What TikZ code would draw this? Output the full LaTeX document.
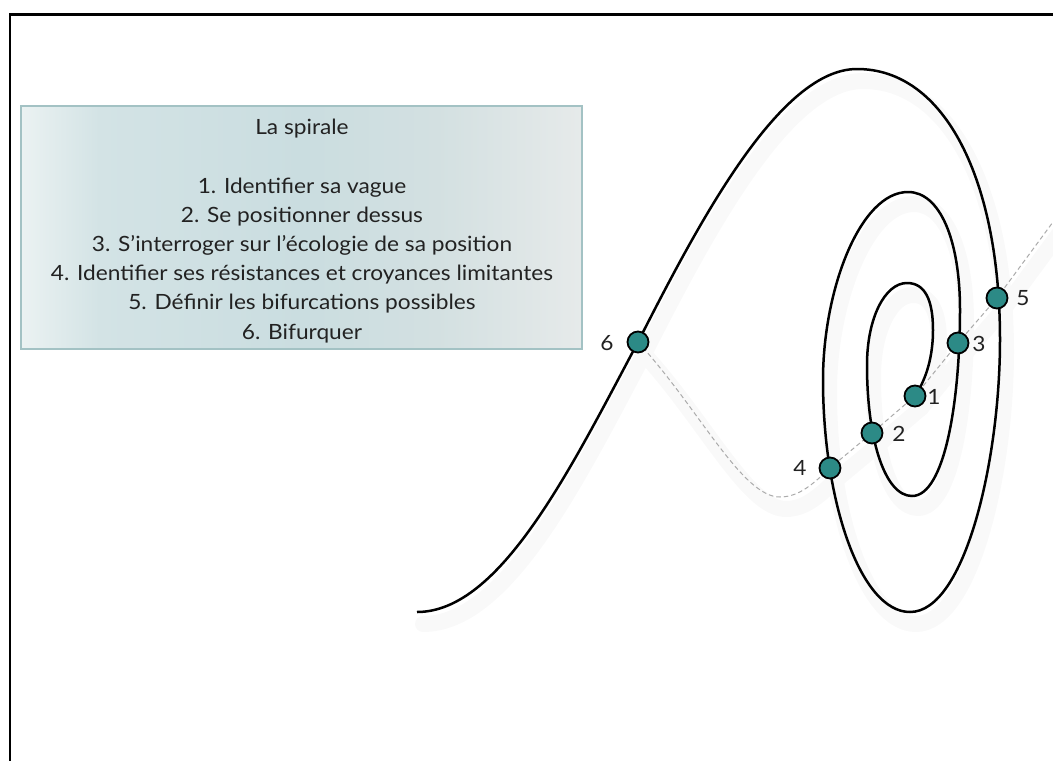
\documentclass[tikz,border=0pt]{standalone}
\usepackage{fontspec}
\setmainfont{Lato}
\newfontfamily\boxfont{Lato}[FakeStretch=1.08]
\definecolor{bxa}{HTML}{EBF2F2}
\definecolor{bxb}{HTML}{D3E3E5}
\definecolor{bxc}{HTML}{CADDE0}
\definecolor{bxd}{HTML}{D3E0E1}
\definecolor{bxe}{HTML}{E6EAEA}
\definecolor{boxborder}{HTML}{A3C2C4}
\definecolor{teal1}{HTML}{2C8A86}
\definecolor{dashgray}{HTML}{ABABAB}
\definecolor{shadowgray}{HTML}{F9F9F9}
\definecolor{txtcol}{HTML}{222222}
\pgfdeclarehorizontalshading{boxshade}{100bp}{color(0bp)=(bxa); color(25bp)=(bxa); color(32bp)=(bxb); color(50bp)=(bxc); color(62bp)=(bxd); color(75bp)=(bxe); color(100bp)=(bxe)}
\newcommand\spiralpathcmd{(915,396) .. controls (927,378) and (933,355) .. (933,330)
 .. controls (933,300) and (925,283) .. (907,283)
 .. controls (885,283) and (867,318) .. (867,365)
 .. controls (867,440) and (885,496) .. (912,496)
 .. controls (945,496) and (960,400) .. (960,310)
 .. controls (960,240) and (940,192) .. (908,192)
 .. controls (860,192) and (823,290) .. (823,380)
 .. controls (823,500) and (860,612) .. (910,612)
 .. controls (965,612) and (1000,460) .. (1000,340)
 .. controls (1000,180) and (945,69) .. (857,69)
 .. controls (780,69) and (700,220) .. (638,342)
 .. controls (570,470) and (500,612) .. (417,612)}
\newcommand\dashpathcmd{(638,342) .. controls (700,410) and (742,497) .. (780,497) .. controls (800,497) and (815,482) .. (830,468) -- (872,433) -- (915,396) -- (958,343) -- (997,298) -- (1053,222)}
\begin{document}
\begin{tikzpicture}[x=1pt,y=-1pt,
  framerule/.style={line width=2.7pt, black},
  curve/.style={line width=2.5pt, black},
  shadowline/.style={line width=16pt, shadowgray, line cap=round, line join=round},
  dotnode/.style={circle, draw=black, line width=1.8pt, fill=teal1, minimum size=21pt, inner sep=0pt},
  numlbl/.style={font=\boxfont\fontsize{21}{24}\selectfont, text=txtcol, inner sep=0pt},
  dashline/.style={dash pattern=on 4.5pt off 3pt, dashgray, line width=1pt},
  boxstyle/.style={draw=boxborder, line width=1.5pt, shading=boxshade, shading angle=0, minimum width=561pt, minimum height=243pt, inner sep=0pt},
  boxtext/.style={font=\boxfont\fontsize{21}{29.2}\selectfont, text=txtcol, align=center, inner sep=0pt}]
\useasboundingbox (0,0) rectangle (1053,761);
% frame
\coordinate (ftr) at (1053,14.5);
\coordinate (ftl) at (10,14.5);
\coordinate (fbl) at (10,761);
\draw[framerule] (ftr) -- (ftl) -- (fbl);
% text box
\node[boxstyle] (box) at (301.5,227.5) {};
\node[boxtext] (txt) at (302,231) {La spirale\\[29.2pt]1. Identifier sa vague\\2. Se positionner dessus\\3. S’interroger sur l’écologie de sa position\\4. Identifier ses résistances et croyances limitantes\\5. Définir les bifurcations possibles\\6. Bifurquer};
% shadows
\begin{scope}[shift={(6,12)}]
\draw[shadowline] \spiralpathcmd;
\draw[shadowline] \dashpathcmd;
\end{scope}
% dashed guide
\draw[dashline] \dashpathcmd;
% spiral
\draw[curve] \spiralpathcmd;
% points
\node[dotnode] (n1) at (915,396) {};
\node[dotnode] (n2) at (872,433) {};
\node[dotnode] (n3) at (958,343) {};
\node[dotnode] (n4) at (830,468) {};
\node[dotnode] (n5) at (997,298) {};
\node[dotnode] (n6) at (638,342) {};
\node[numlbl] (l1) at (934,397) {1};
\node[numlbl] (l2) at (899,434) {2};
\node[numlbl] (l3) at (979,344) {3};
\node[numlbl] (l4) at (800,468) {4};
\node[numlbl] (l5) at (1023,298) {5};
\node[numlbl] (l6) at (607,343) {6};
\end{tikzpicture}
\end{document}
